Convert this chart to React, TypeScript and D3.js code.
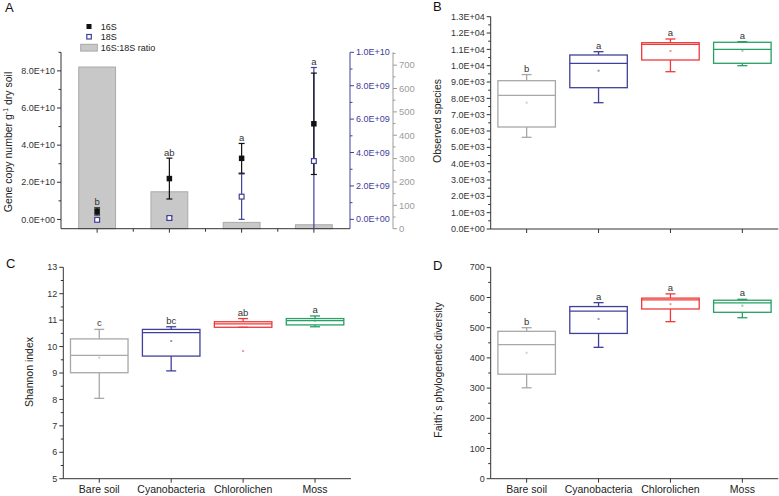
import React from "react";
import * as d3 from "d3";

const FONT = "'Liberation Sans', Arial, Helvetica, sans-serif";

// ---------- Data ----------
const categories = ["Bare soil", "Cyanobacteria", "Chlorolichen", "Moss"];

// Panel A
const ratio16S18S = [692, 158, 27, 17];
const gene16SMean = [4.3e9, 2.2e10, 3.29e10, 5.15e10];
const gene16SErr = [1.9e9, 1.1e10, 0.8e10, 2.73e10];
const gene18SMean = [-3e7, 8e7, 1.36e9, 3.49e9];
const gene18SErr = [1e8, 1e8, 1.36e9, 5.6e9];
const lettersA = ["b", "ab", "a", "a"];
const leftTicksA = [0, 2e10, 4e10, 6e10, 8e10];
const leftMinorA = [1e10, 3e10, 5e10, 7e10, 9e10];
const rightTicksA = [0, 2e9, 4e9, 6e9, 8e9, 1e10];
const rightMinorA = [1e9, 3e9, 5e9, 7e9, 9e9];
const ratioTicksA = [0, 100, 200, 300, 400, 500, 600, 700];
const ratioMinorA = [50, 150, 250, 350, 450, 550, 650, 750];

// Panel B: Observed species
const obsLow = [5615, 7734, 9632, 10000];
const obsQ1 = [6246, 8653, 10349, 10147];
const obsMedian = [8187, 10147, 11310, 11004];
const obsQ3 = [9082, 10655, 11408, 11433];
const obsHigh = [9455, 10857, 11635, 11470];
const obsMean = [7734, 9694, 10900, 10918];
const lettersB = ["b", "a", "a", "a"];
const ticksB = d3.range(0, 13001, 1000);

// Panel C: Shannon index
const shLow = [8.04, 9.08, 10.73, 10.75];
const shQ1 = [9.01, 9.64, 10.73, 10.82];
const shMedian = [9.67, 10.53, 10.86, 10.98];
const shQ3 = [10.29, 10.65, 10.94, 11.06];
const shHigh = [10.65, 10.75, 11.06, 11.16];
const shMean = [9.58, 10.21, 9.83, 10.98];
const lettersC = ["c", "bc", "ab", "a"];
const ticksC = [5, 6, 7, 8, 9, 10, 11, 12, 13];

// Panel D: Faith's PD
const pdLow = [301, 435, 520, 533];
const pdQ1 = [346, 481, 562, 551];
const pdMedian = [444, 555, 592, 582];
const pdQ3 = [488, 570, 598, 591];
const pdHigh = [500, 583, 612, 594];
const pdMean = [417, 529, 578, 573];
const lettersD = ["b", "a", "a", "a"];
const ticksD = [0, 100, 200, 300, 400, 500, 600, 700];

const boxColors = ["#a8a8a8", "#40409a", "#ee3a3a", "#27a064"];
const BLUE = "#40409a";
const GRAY_AX = "#9c9c9c";

function fmtE(v: number) {
  if (v === 0) return "0.0E+00";
  const e = Math.floor(Math.log10(Math.abs(v)) + 1e-9);
  const m = v / Math.pow(10, e);
  return m.toFixed(1) + "E+" + String(e).padStart(2, "0");
}

type YAxisProps = {
  scale: any;
  x: number;
  ticks: number[];
  minor?: number[];
  fmt: (v: number) => string;
  side: "left" | "right";
  color?: string;
  textColor?: string;
  fontSize?: number;
};

function YAxis({ scale, x, ticks, minor = [], fmt, side, color = "#333", textColor = "#333", fontSize = 9 }: YAxisProps) {
  const [r0, r1] = scale.range();
  const dir = side === "left" ? -1 : 1;
  return (
    <g>
      <line x1={x} x2={x} y1={r0} y2={r1} stroke={color} strokeWidth={1} />
      {ticks.map((t, i) => (
        <g key={"t" + i}>
          <line x1={x} x2={x + dir * 4} y1={scale(t)} y2={scale(t)} stroke={color} strokeWidth={1} />
          <text
            x={x + dir * 6}
            y={scale(t)}
            dy="0.35em"
            textAnchor={side === "left" ? "end" : "start"}
            fontSize={fontSize}
            fill={textColor}
            fontFamily={FONT}
          >
            {fmt(t)}
          </text>
        </g>
      ))}
      {minor.map((t, i) => (
        <line key={"m" + i} x1={x} x2={x + dir * 2.5} y1={scale(t)} y2={scale(t)} stroke={color} strokeWidth={1} />
      ))}
    </g>
  );
}

type BoxPanelProps = {
  x0: number;
  x1: number;
  yScale: any;
  low: number[];
  q1: number[];
  med: number[];
  q3: number[];
  high: number[];
  mean: number[];
  letters: string[];
  ticks: number[];
  minor: number[];
  fmt: (v: number) => string;
  title: string;
  titleX: number;
  titleY: number;
  panel: string;
  panelX: number;
  panelY: number;
  showCats: boolean;
};

function BoxPanel(p: BoxPanelProps) {
  const xs = d3.scaleBand().domain(categories).range([p.x0, p.x1]).padding(0);
  const bw = xs.bandwidth();
  const boxW = bw * 0.8;
  const capW = 10;
  const yBottom = p.yScale.range()[0];
  return (
    <g>
      <text x={p.panelX} y={p.panelY} fontSize={13} fontFamily={FONT} fill="#111">
        {p.panel}
      </text>
      <text
        transform={`translate(${p.titleX},${p.titleY}) rotate(-90)`}
        textAnchor="middle"
        fontSize={10.5}
        fontFamily={FONT}
        fill="#222"
      >
        {p.title}
      </text>
      <YAxis scale={p.yScale} x={p.x0} ticks={p.ticks} minor={p.minor} fmt={p.fmt} side="left" />
      <line x1={p.x0} x2={p.x1} y1={yBottom} y2={yBottom} stroke="#333" strokeWidth={1} />
      {categories.map((c, i) => {
        const cx = (xs(c) as number) + bw / 2;
        const col = boxColors[i];
        const y = p.yScale;
        return (
          <g key={c}>
            <line x1={cx} x2={cx} y1={yBottom} y2={yBottom + 4} stroke="#333" />
            {p.showCats && (
              <text x={cx} y={yBottom + 14.5} textAnchor="middle" fontSize={10.5} fontFamily={FONT} fill="#222">
                {c}
              </text>
            )}
            <line x1={cx} x2={cx} y1={y(p.high[i])} y2={y(p.q3[i])} stroke={col} strokeWidth={1.3} />
            <line x1={cx} x2={cx} y1={y(p.q1[i])} y2={y(p.low[i])} stroke={col} strokeWidth={1.3} />
            <line x1={cx - capW / 2} x2={cx + capW / 2} y1={y(p.high[i])} y2={y(p.high[i])} stroke={col} strokeWidth={1.3} />
            <line x1={cx - capW / 2} x2={cx + capW / 2} y1={y(p.low[i])} y2={y(p.low[i])} stroke={col} strokeWidth={1.3} />
            <rect
              x={cx - boxW / 2}
              y={y(p.q3[i])}
              width={boxW}
              height={Math.max(0.5, y(p.q1[i]) - y(p.q3[i]))}
              fill="none"
              stroke={col}
              strokeWidth={1.3}
            />
            <line x1={cx - boxW / 2} x2={cx + boxW / 2} y1={y(p.med[i])} y2={y(p.med[i])} stroke={col} strokeWidth={1.3} />
            <rect x={cx - 1} y={y(p.mean[i]) - 1} width={2} height={2} fill={col} opacity={0.55} />
            <text x={cx} y={y(p.high[i]) - 3} textAnchor="middle" fontSize={9.5} fontFamily={FONT} fill="#333">
              {p.letters[i]}
            </text>
          </g>
        );
      })}
    </g>
  );
}

function PanelA() {
  const x0 = 61,
    x1 = 350,
    yTop = 52.3,
    yBot = 228.7;
  const xs = d3.scaleBand().domain(categories).range([x0, x1]).padding(0);
  const bw = xs.bandwidth();
  const yL = d3.scaleLinear().domain([-5e9, 9e10]).range([yBot, yTop]);
  const yR = d3.scaleLinear().domain([-5.6e8, 1e10]).range([yBot, yTop]);
  const yG = d3.scaleLinear().domain([0, 755]).range([yBot, yTop]);
  const barW = bw * 0.51;
  const capW = 6;
  const clampY = (v: number) => Math.max(yTop, Math.min(yBot, v));
  return (
    <g>
      <text x={5} y={12} fontSize={13} fontFamily={FONT} fill="#111">
        A
      </text>
      <text
        transform={`translate(11.5,142) rotate(-90)`}
        textAnchor="middle"
        fontSize={10.5}
        fontFamily={FONT}
        fill="#222"
      >
        Gene copy number g
        <tspan dy={-4} fontSize={7}>
          -1
        </tspan>
        <tspan dy={4}> dry soil</tspan>
      </text>
      {/* legend */}
      <rect x={86.5} y={24} width={5} height={5} fill="#111" />
      <text x={100.7} y={29.6} fontSize={9} fontFamily={FONT} fill="#222">
        16S
      </text>
      <rect x={86.8} y={34.5} width={4.5} height={4.5} fill="none" stroke={BLUE} strokeWidth={1.2} />
      <text x={100.7} y={40} fontSize={9} fontFamily={FONT} fill="#222">
        18S
      </text>
      <rect x={80.7} y={44.3} width={16.6} height={6.8} fill="#c8c8c8" stroke="#a8a8a8" strokeWidth={1} />
      <text x={100.7} y={50.9} fontSize={9} fontFamily={FONT} fill="#222">
        16S:18S ratio
      </text>

      {/* bars */}
      {categories.map((c, i) => {
        const cx = (xs(c) as number) + bw / 2;
        return (
          <rect
            key={"bar" + c}
            x={cx - barW / 2}
            y={yG(ratio16S18S[i])}
            width={barW}
            height={yBot - yG(ratio16S18S[i])}
            fill="#c8c8c8"
            stroke="#ababab"
            strokeWidth={1}
          />
        );
      })}

      {/* axes */}
      <YAxis scale={yL} x={x0} ticks={leftTicksA} minor={leftMinorA} fmt={fmtE} side="left" />
      <YAxis scale={yR} x={x1} ticks={rightTicksA} minor={rightMinorA} fmt={fmtE} side="right" color={BLUE} textColor={BLUE} />
      <YAxis
        scale={yG}
        x={393}
        ticks={ratioTicksA}
        minor={ratioMinorA.filter((v) => v < 755)}
        fmt={(v) => String(v)}
        side="right"
        color={GRAY_AX}
        textColor={GRAY_AX}
        fontSize={9.5}
      />
      <line x1={x0} x2={x1} y1={yBot} y2={yBot} stroke="#333" />
      {categories.map((c, i) => {
        const cx = (xs(c) as number) + bw / 2;
        return <line key={"xt" + i} x1={cx} x2={cx} y1={yBot} y2={yBot + 4} stroke="#333" />;
      })}
      {[1, 2, 3].map((k) => {
        const bx = xs(categories[k]) as number;
        return <line key={"xm" + k} x1={bx} x2={bx} y1={yBot} y2={yBot + 3} stroke="#333" />;
      })}

      {/* error bars and points */}
      {categories.map((c, i) => {
        const cx = (xs(c) as number) + bw / 2;
        const t16 = yL(gene16SMean[i] + gene16SErr[i]);
        const b16 = yL(gene16SMean[i] - gene16SErr[i]);
        const t18 = clampY(yR(gene18SMean[i] + gene18SErr[i]));
        const b18 = clampY(yR(gene18SMean[i] - gene18SErr[i]));
        const rawB18 = yR(gene18SMean[i] - gene18SErr[i]);
        const letterY = Math.min(t16, t18) - 2.5;
        return (
          <g key={"eb" + c}>
            <line x1={cx} x2={cx} y1={t18} y2={b18} stroke={BLUE} strokeWidth={1.2} />
            <line x1={cx - capW / 2} x2={cx + capW / 2} y1={t18} y2={t18} stroke={BLUE} strokeWidth={1.2} />
            {rawB18 <= yBot && (
              <line x1={cx - capW / 2} x2={cx + capW / 2} y1={b18} y2={b18} stroke={BLUE} strokeWidth={1.2} />
            )}
            <line x1={cx} x2={cx} y1={t16} y2={b16} stroke="#111" strokeWidth={1.2} />
            <line x1={cx - capW / 2} x2={cx + capW / 2} y1={t16} y2={t16} stroke="#111" strokeWidth={1.2} />
            <line x1={cx - capW / 2} x2={cx + capW / 2} y1={b16} y2={b16} stroke="#111" strokeWidth={1.2} />
            <rect x={cx - 2.75} y={yL(gene16SMean[i]) - 2.75} width={5.5} height={5.5} fill="#111" />
            <rect
              x={cx - 2.4}
              y={yR(gene18SMean[i]) - 2.4}
              width={4.8}
              height={4.8}
              fill="#fff"
              stroke={BLUE}
              strokeWidth={1.2}
            />
            <text x={cx} y={letterY} textAnchor="middle" fontSize={9.5} fontFamily={FONT} fill="#333">
              {lettersA[i]}
            </text>
          </g>
        );
      })}
    </g>
  );
}

export default function App() {
  const yB = d3.scaleLinear().domain([0, 13000]).range([229, 16.7]);
  const yC = d3.scaleLinear().domain([5, 13]).range([478.7, 267.3]);
  const yD = d3.scaleLinear().domain([0, 700]).range([478.7, 267.3]);
  return (
    <svg
      width={779}
      height={496}
      viewBox="0 0 779 496"
      style={{ position: "absolute", left: 0, top: 0, background: "#fff" }}
    >
      <rect width={779} height={496} fill="#fff" />
      <PanelA />
      <BoxPanel
        x0={490.7}
        x1={778.3}
        yScale={yB}
        low={obsLow}
        q1={obsQ1}
        med={obsMedian}
        q3={obsQ3}
        high={obsHigh}
        mean={obsMean}
        letters={lettersB}
        ticks={ticksB}
        minor={d3.range(500, 13000, 1000)}
        fmt={fmtE}
        title="Observed species"
        titleX={441}
        titleY={121}
        panel="B"
        panelX={433}
        panelY={10.5}
        showCats={false}
      />
      <BoxPanel
        x0={63.3}
        x1={351}
        yScale={yC}
        low={shLow}
        q1={shQ1}
        med={shMedian}
        q3={shQ3}
        high={shHigh}
        mean={shMean}
        letters={lettersC}
        ticks={ticksC}
        minor={d3.range(5.5, 13, 1)}
        fmt={(v) => String(v)}
        title="Shannon index"
        titleX={33}
        titleY={372}
        panel="C"
        panelX={6}
        panelY={268}
        showCats={true}
      />
      <BoxPanel
        x0={490.7}
        x1={778.3}
        yScale={yD}
        low={pdLow}
        q1={pdQ1}
        med={pdMedian}
        q3={pdQ3}
        high={pdHigh}
        mean={pdMean}
        letters={lettersD}
        ticks={ticksD}
        minor={d3.range(50, 700, 100)}
        fmt={(v) => String(v)}
        title="Faith´s phylogenetic diversity"
        titleX={442}
        titleY={370}
        panel="D"
        panelX={433}
        panelY={270}
        showCats={true}
      />
    </svg>
  );
}
